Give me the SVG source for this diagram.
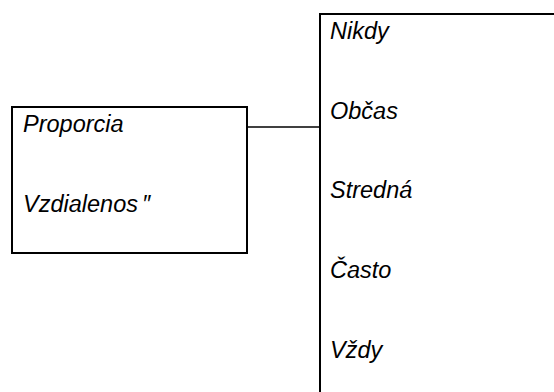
<svg xmlns="http://www.w3.org/2000/svg" width="554" height="392" viewBox="0 0 554 392">
<style>
.box{fill:#fff;stroke:#000;stroke-width:2}
.conn{stroke:#000;stroke-width:1.6;fill:none}
.t{font-family:"Liberation Sans",Arial,sans-serif;font-style:italic;font-size:23.5px;fill:#000}
</style>
<rect width="554" height="392" fill="#fff"/>
<g id="connectors">
<line class="conn" x1="247" y1="127" x2="320" y2="127"/>
</g>
<g id="left-node">
<rect class="box" x="12" y="107" width="235" height="146"/>
<text class="t" x="23" y="132">Proporcia</text>
<text class="t" x="23" y="212">Vzdialenos<tspan dx="4">″</tspan></text>
</g>
<g id="right-node">
<rect class="box" x="320" y="14" width="300" height="400"/>
<text class="t" x="330" y="39">Nikdy</text>
<text class="t" x="330" y="119">Občas</text>
<text class="t" x="330" y="198">Stredná</text>
<text class="t" x="330" y="278">Často</text>
<text class="t" x="330" y="358">Vždy</text>
</g>
</svg>
